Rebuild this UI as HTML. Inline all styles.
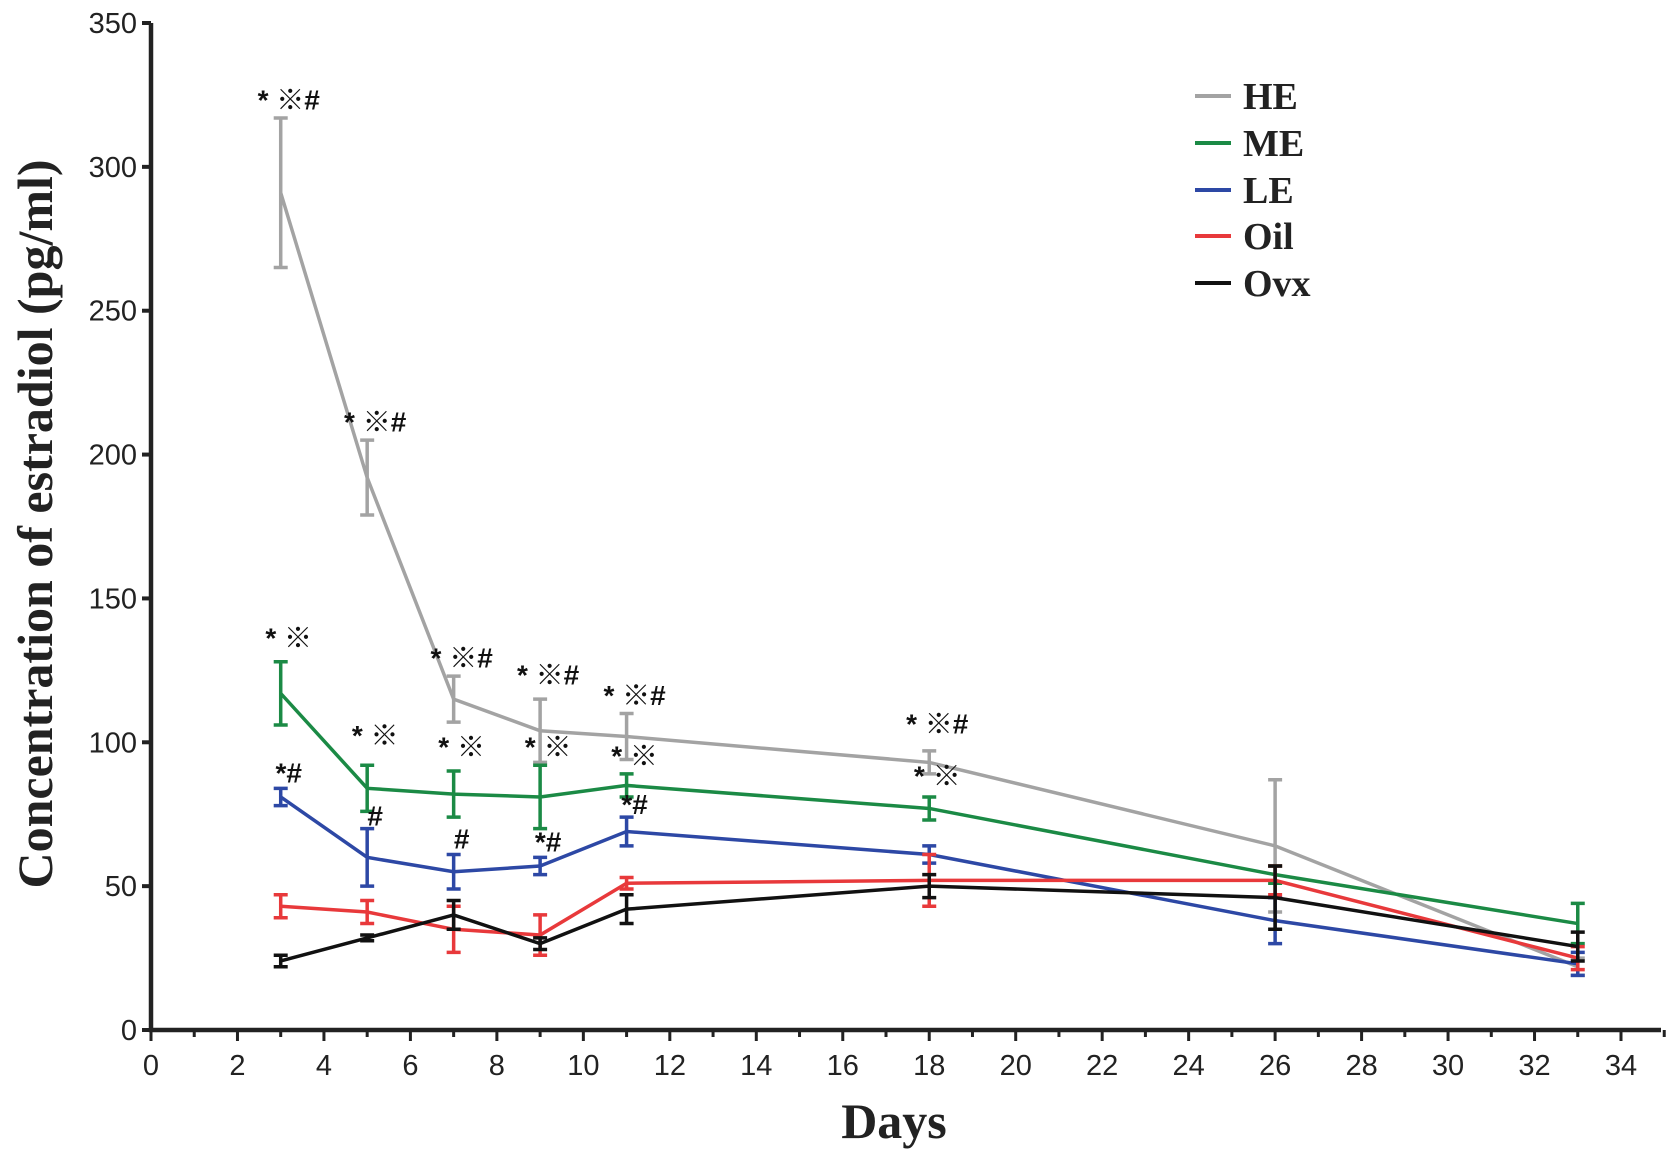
<!DOCTYPE html>
<html><head><meta charset="utf-8"><style>
html,body{margin:0;padding:0;background:#fff;}
svg{display:block;}
.tick{font-family:"Liberation Sans",sans-serif;font-size:29px;fill:#222;}
.ann{font-family:"Liberation Sans","Noto Sans CJK SC",sans-serif;font-size:28px;font-weight:bold;fill:#111;}
.leg{font-family:"Liberation Serif",serif;font-size:38px;font-weight:bold;fill:#222;}
.title{font-family:"Liberation Serif",serif;font-weight:bold;fill:#222;}
</style></head><body>
<svg id="chart" width="1677" height="1149"></svg>
<script>
const days=[3,5,7,9,11,18,26,33];
const heVals=[291,192,115,104,102,93,64,22];
const heErr=[26,13,8,11,8,4,23,3];
const meVals=[117,84,82,81,85,77,54,37];
const meErr=[11,8,8,11,4,4,3,7];
const leVals=[81,60,55,57,69,61,38,23];
const leErr=[3,10,6,3,5,3,8,4];
const oilVals=[43,41,35,33,51,52,52,25];
const oilErr=[4,4,8,7,2,9,5,4];
const ovxVals=[24,32,40,30,42,50,46,29];
const ovxErr=[2,1,5,2,5,4,11,5];
const seriesNames=["HE","ME","LE","Oil","Ovx"];
const xTicks=[0,2,4,6,8,10,12,14,16,18,20,22,24,26,28,30,32,34];
const yTicks=[0,50,100,150,200,250,300,350];
const annDays=[3,5,7,9,11,18,3,5,7,9,11,18,3,5,7,9,11];
const annVals=[320,208,126,120,113,103,133,99,95,95,92,85,86,71,63,62,75];
const annText=["* ※#","* ※#","* ※#","* ※#","* ※#","* ※#","* ※","* ※","* ※","* ※","* ※","* ※","*#","#","#","*#","*#"];

const NS="http://www.w3.org/2000/svg";
const svg=document.getElementById('chart');
const X0=151,X1=1621,Y0=1030,Y1=23;
const xs=d=>X0+(X1-X0)*d/34;
const ys=v=>Y0-(Y0-Y1)*v/350;
function mk(t,a,p){const e=document.createElementNS(NS,t);for(const k in a)e.setAttribute(k,a[k]);(p||svg).appendChild(e);return e;}

const colors=["#a3a3a3","#1b8a45","#2d48a5","#e8393b","#111111"];
const vals=[heVals,meVals,leVals,oilVals,ovxVals];
const errs=[heErr,meErr,leErr,oilErr,ovxErr];
for(let s=0;s<5;s++){
  const g=mk('g',{});
  
  
  const pts=days.map((d,i)=>xs(d)+','+ys(vals[s][i])).join(' ');
  const pl=mk('polyline',{points:pts,fill:'none',stroke:colors[s],'stroke-width':3.5},g);
  
  
  days.forEach((d,i)=>{
    const x=xs(d),yt=ys(vals[s][i]+errs[s][i]),yb=ys(vals[s][i]-errs[s][i]);
    const eb=mk('path',{d:`M${x},${yt}V${yb}M${x-7},${yt}H${x+7}M${x-7},${yb}H${x+7}`,stroke:colors[s],'stroke-width':3.5,fill:'none'},g);
    
    
  });
}
annDays.forEach((d,i)=>{
  const t=mk('text',{x:xs(d)+8,y:ys(annVals[i]),class:'ann','text-anchor':'middle'});
  t.textContent=annText[i];
  
  
});
const ax=mk('path',{d:`M${X0},${Y1}V${Y0}H${X1+40}`,stroke:'#222','stroke-width':4.5,fill:'none'});


yTicks.forEach(v=>{
  mk('line',{x1:X0-9,x2:X0,y1:ys(v),y2:ys(v),stroke:'#222','stroke-width':4});
  const t=mk('text',{x:X0-14,y:ys(v)+10,class:'tick','text-anchor':'end'});
  t.textContent=v;
  
  
});
for(let d=0;d<=35;d++){
  mk('line',{x1:xs(d),x2:xs(d),y1:Y0,y2:Y0+(d%2==0?11:7),stroke:'#222','stroke-width':3});
}
xTicks.forEach(d=>{
  const t=mk('text',{x:xs(d),y:Y0+45,class:'tick','text-anchor':'middle'});
  t.textContent=d;
  
  
});
const xt=mk('text',{x:894,y:1138,class:'title','font-size':50,'text-anchor':'middle'});
xt.textContent='Days';


const yt=mk('text',{x:0,y:0,class:'title','font-size':50,'text-anchor':'middle',transform:'translate(52,524) rotate(-90)'});
yt.textContent='Concentration of estradiol (pg/ml)';


const legY=[96,143,190,236,283];
seriesNames.forEach((n,i)=>{
  const g=mk('g',{});
  
  
  mk('line',{x1:1195,x2:1231,y1:legY[i],y2:legY[i],stroke:colors[i],'stroke-width':4},g);
  const t=mk('text',{x:1243,y:legY[i]+13,class:'leg'},g);
  t.textContent=n;
});
</script>
</body></html>
